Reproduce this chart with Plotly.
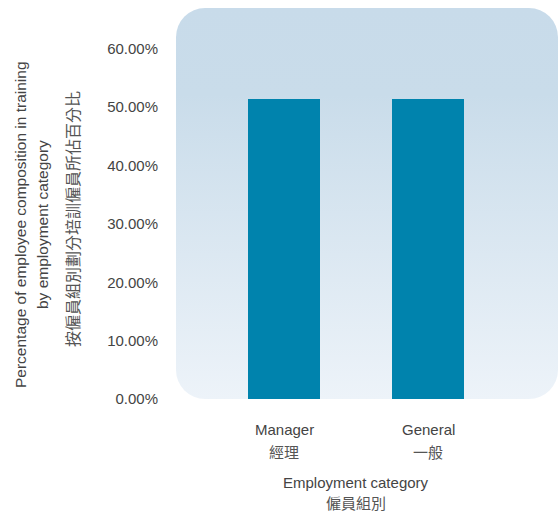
import base64
import plotly.graph_objects as go

# Data
categories_en = ["Manager", "General"]
categories_zh = ["經理", "一般"]
training_share = [51.4, 51.4]  # percent
tick_values = [0, 10, 20, 30, 40, 50, 60]
tick_labels = ["0.00%", "10.00%", "20.00%", "30.00%", "40.00%", "50.00%", "60.00%"]

BAR_COLOR = "#0083ad"
TEXT_COLOR = "#444444"
CJK_COLOR = "#555555"
FONT = "Liberation Sans, Arial, sans-serif"
CJK_FONT = "Noto Sans CJK TC, Noto Sans CJK SC, sans-serif"

W, H = 559, 512
M_L, M_R, M_T, M_B = 176, 1, 8, 113
PW, PH = W - M_L - M_R, H - M_T - M_B

# Rounded panel with vertical gradient, placed behind the plot area
svg = f"""<svg xmlns='http://www.w3.org/2000/svg' width='{PW}' height='{PH}' viewBox='0 0 {PW} {PH}'>
<defs><linearGradient id='g' x1='0' y1='0' x2='0' y2='1'>
<stop offset='0' stop-color='#c8dbea'/><stop offset='0.22' stop-color='#c9dcea'/>
<stop offset='1' stop-color='#edf3f9'/></linearGradient></defs>
<rect x='0' y='0' width='{PW}' height='{PH}' rx='29' ry='29' fill='url(#g)'/></svg>"""
panel_src = "data:image/svg+xml;base64," + base64.b64encode(svg.encode()).decode()

fig = go.Figure()
fig.add_trace(go.Bar(
    x=categories_en,
    y=training_share,
    width=0.5,
    marker=dict(color=BAR_COLOR, line=dict(width=0)),
    hoverinfo="skip",
))

fig.add_layout_image(dict(
    source=panel_src, xref="paper", yref="paper", x=0, y=1,
    sizex=1, sizey=1, xanchor="left", yanchor="top",
    sizing="stretch", layer="below",
))


def px_to_paper_x(px):
    return (px - M_L) / PW


def px_to_paper_y(py):
    return (H - M_B - py) / PH


annotations = []
# Category labels (English above Chinese)
for en, zh in zip(categories_en, categories_zh):
    annotations.append(dict(x=en, y=px_to_paper_y(430), xref="x", yref="paper", text=en,
                            showarrow=False, font=dict(family=FONT, size=15, color=TEXT_COLOR),
                            xanchor="center", yanchor="middle"))
    annotations.append(dict(x=en, y=px_to_paper_y(451), xref="x", yref="paper", text=zh,
                            showarrow=False, font=dict(family=CJK_FONT, size=15, color=CJK_COLOR),
                            xanchor="center", yanchor="middle"))

# X-axis title
annotations.append(dict(x=0.5, y=px_to_paper_y(482), xref="x", yref="paper", text="Employment category",
                        showarrow=False, font=dict(family=FONT, size=15, color=TEXT_COLOR),
                        xanchor="center", yanchor="middle"))
annotations.append(dict(x=0.5, y=px_to_paper_y(502), xref="x", yref="paper", text="僱員組別",
                        showarrow=False, font=dict(family=CJK_FONT, size=15, color=CJK_COLOR),
                        xanchor="center", yanchor="middle"))

# Y-axis title (three rotated lines)
annotations.append(dict(x=px_to_paper_x(20), y=px_to_paper_y(225), xref="paper", yref="paper",
                        text="Percentage of employee composition in training", textangle=-90,
                        showarrow=False, font=dict(family=FONT, size=15.5, color=TEXT_COLOR),
                        xanchor="center", yanchor="middle"))
annotations.append(dict(x=px_to_paper_x(42), y=px_to_paper_y(225), xref="paper", yref="paper",
                        text="by employment category", textangle=-90,
                        showarrow=False, font=dict(family=FONT, size=15.5, color=TEXT_COLOR),
                        xanchor="center", yanchor="middle"))
annotations.append(dict(x=px_to_paper_x(72), y=px_to_paper_y(219), xref="paper", yref="paper",
                        text="按僱員組別劃分培訓僱員所佔百分比", textangle=-90,
                        showarrow=False, font=dict(family=CJK_FONT, size=16, color=CJK_COLOR),
                        xanchor="center", yanchor="middle"))

fig.update_layout(
    width=W, height=H,
    margin=dict(l=M_L, r=M_R, t=M_T, b=M_B, pad=0),
    paper_bgcolor="white",
    plot_bgcolor="rgba(0,0,0,0)",
    showlegend=False,
    annotations=annotations,
    xaxis=dict(
        type="category",
        range=[-0.75, 1.9028],
        showticklabels=False,
        showgrid=False, zeroline=False, showline=False, ticks="",
        fixedrange=True,
    ),
    yaxis=dict(
        range=[0, 67],
        tickmode="array",
        tickvals=tick_values,
        ticktext=tick_labels,
        ticks="outside", ticklen=14, tickcolor="rgba(0,0,0,0)",
        tickfont=dict(family=FONT, size=15, color=TEXT_COLOR),
        showgrid=False, zeroline=False, showline=False,
        fixedrange=True,
    ),
)

fig.write_html("out.html")
